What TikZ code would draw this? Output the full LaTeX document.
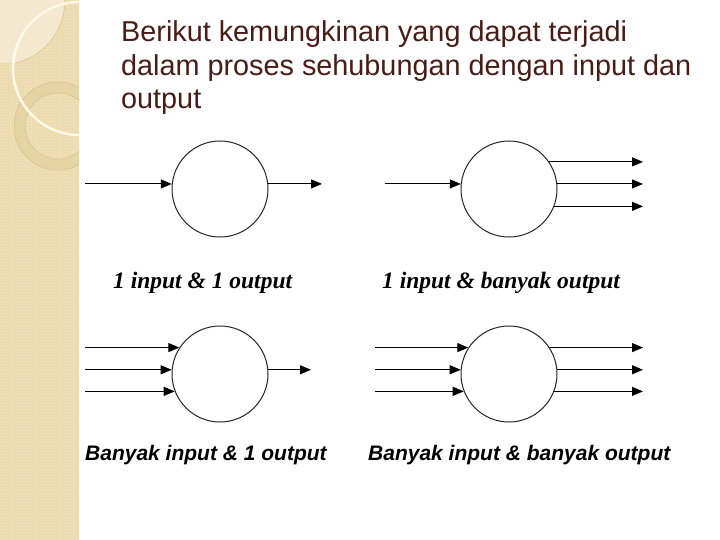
\documentclass[tikz,border=0pt]{standalone}
\usepackage{fontspec}
\setmainfont{Liberation Sans}
\newfontfamily\serifface{Liberation Serif}
\usepackage{tikz}
\usetikzlibrary{arrows.meta}
\usetikzlibrary{patterns}

\definecolor{stripbeige}{RGB}{236,218,172}
\definecolor{stripdots}{RGB}{248,238,212}
\definecolor{paletop}{RGB}{244,233,206}
\definecolor{ringband}{RGB}{231,212,164}
\definecolor{ringline}{RGB}{212,190,140}
\definecolor{creamarc}{RGB}{255,250,232}
\definecolor{titlebrown}{RGB}{74,28,22}

\tikzset{
  proc/.style={circle, draw=black!85, line width=1pt, minimum size=96pt, inner sep=0pt},
  flow/.style={draw=black, line width=1pt, -{Triangle[length=11pt,width=9pt]}},
  titletext/.style={anchor=base west, inner sep=0pt, text=titlebrown, font=\fontsize{28.8}{33.5}\selectfont},
  caseserif/.style={anchor=base west, inner sep=0pt, font=\serifface\bfseries\itshape\fontsize{23.5}{26}\selectfont},
  casesans/.style={anchor=base west, inner sep=0pt, font=\bfseries\itshape\fontsize{21}{24}\selectfont}
}

\begin{document}
\begin{tikzpicture}[x=1pt, y=-1pt]
  \useasboundingbox (0,0) rectangle (720,540);
  \fill[white] (0,0) rectangle (720,540);

  %% side strip
  \fill[stripbeige] (0,0) rectangle (79,540);
  \fill[pattern=crosshatch dots, pattern color=stripdots] (0,0) rectangle (79,540);
  \begin{scope}
    \clip (0,0) rectangle (79,540);
    \begin{scope}
      \clip (0,0) rectangle (79,63);
      \fill[paletop] (0,0) circle[radius=65pt];
      \draw[ringline, line width=0.5pt] (0,0) circle[radius=65pt];
    \end{scope}
    \fill[ringband, even odd rule] (58,126) circle[radius=44pt] (58,126) circle[radius=33pt];
    \draw[ringline, line width=0.5pt] (58,126) circle[radius=44pt];
    \draw[ringline, line width=0.5pt] (58,126) circle[radius=33pt];
    \draw[creamarc, line width=2.5pt] (79.5,68.5) circle[radius=66.5pt]; %% big light arc
  \end{scope}

  %% title
  \node[titletext] (title1) at (121,42) {Berikut kemungkinan yang dapat terjadi};
  \node[titletext] (title2) at (121,76) {dalam proses sehubungan dengan input dan};
  \node[titletext] (title3) at (121,109) {output};

  %% processes
  \node[proc] (c1) at (220,189) {};
  \node[proc] (c2) at (509,189) {};
  \node[proc] (c3) at (220,374) {};
  \node[proc] (c4) at (509,374) {};

  %% free ends of the arrows
  \coordinate (in1) at (85,0);
  \coordinate (out1) at (322,0);
  \coordinate (in2) at (385,0);
  \coordinate (out2) at (643,0);
  \coordinate (in3) at (85,0);
  \coordinate (out3) at (311,0);
  \coordinate (in4) at (375,0);
  \coordinate (out4) at (643,0);

  %% 1 input & 1 output
  \draw[flow] (c1.174 -| in1) -- (c1.174);
  \draw[flow] (c1.6) -- (c1.6 -| out1);

  %% 1 input & banyak output
  \draw[flow] (c2.174 -| in2) -- (c2.174);
  \foreach \a in {34,6,-21}
    \draw[flow] (c2.\a) -- (c2.\a -| out2);

  %% banyak input & 1 output
  \foreach \a in {147,175,201}
    \draw[flow] (c3.\a -| in3) -- (c3.\a);
  \draw[flow] (c3.5) -- (c3.5 -| out3);

  %% banyak input & banyak output
  \foreach \a in {147,175,201}
    \draw[flow] (c4.\a -| in4) -- (c4.\a);
  \foreach \a in {33,5,-21}
    \draw[flow] (c4.\a) -- (c4.\a -| out4);

  %% captions
  \node[caseserif] (lab1) at (113,288) {1 input \& 1 output};
  \node[caseserif] (lab2) at (382,288) {1 input \& banyak output};
  \node[casesans] (lab3) at (85,460) {Banyak input \& 1 output};
  \node[casesans] (lab4) at (368,460) {Banyak input \& banyak output};
\end{tikzpicture}
\end{document}
